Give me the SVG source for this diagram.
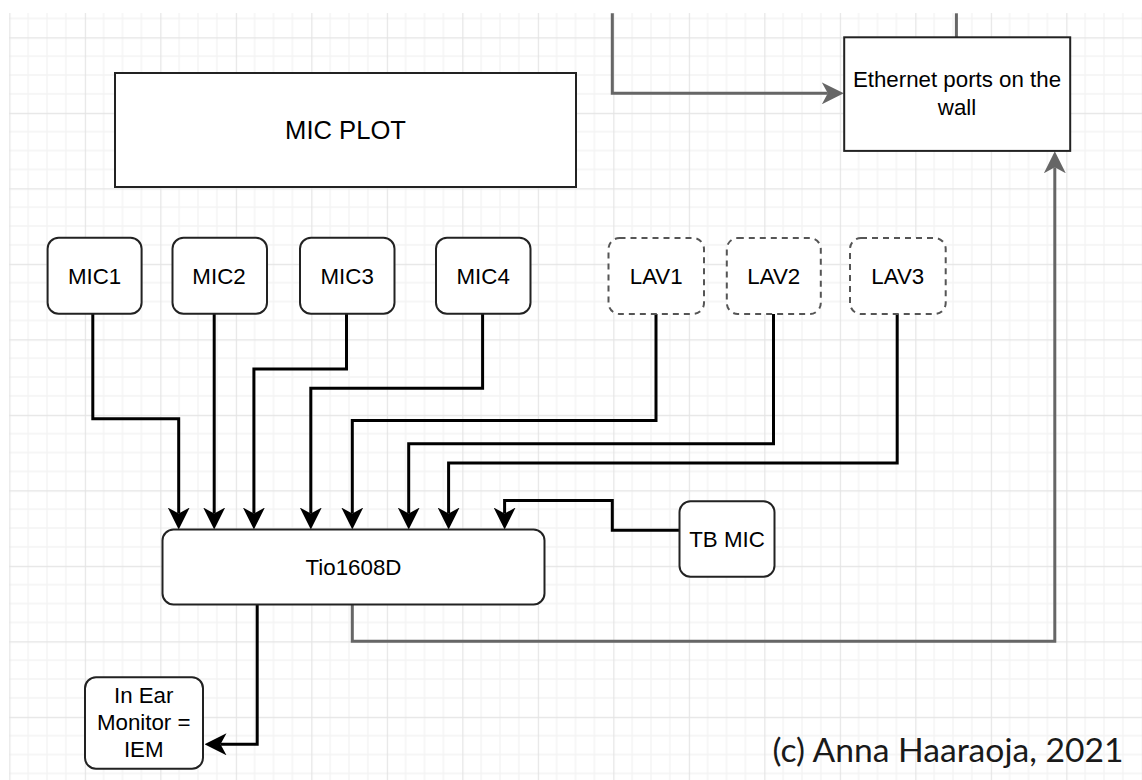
<svg xmlns="http://www.w3.org/2000/svg" width="1142" height="780" viewBox="0 0 1142 780">
<defs>
<pattern id="grid" patternUnits="userSpaceOnUse" x="9.3" y="-38.2" width="75.5" height="75.5">
<path d="M18.875,0V75.5M37.75,0V75.5M56.625,0V75.5M0,18.875H75.5M0,37.75H75.5M0,56.625H75.5" stroke="#f3f3f3" stroke-width="1.3" fill="none"/>
<path d="M0.5,0V75.5M0,0.5H75.5" stroke="#e4e4e4" stroke-width="1.3" fill="none"/>
</pattern>
<marker id="ab" viewBox="0 0 22 22" refX="6" refY="11" markerWidth="22" markerHeight="22" markerUnits="userSpaceOnUse" orient="auto">
<path d="M0,0 L22,11 L0,22 L6,11 Z" fill="#000"/>
</marker>
<marker id="ag" viewBox="0 0 22 22" refX="6" refY="11" markerWidth="22" markerHeight="22" markerUnits="userSpaceOnUse" orient="auto">
<path d="M0,0 L22,11 L0,22 L6,11 Z" fill="#666"/>
</marker>
</defs>
<style>
.box{fill:#fff;stroke:#222;stroke-width:2}
.dash{fill:#fff;stroke:#555;stroke-width:2;stroke-dasharray:6 5}
.lbl{font-family:"Liberation Sans",Arial,sans-serif;font-size:22.3px;fill:#000;text-anchor:middle}
.blk{fill:none;stroke:#000;stroke-width:3}
.gry{fill:none;stroke:#666;stroke-width:3}
</style>
<rect x="0" y="0" width="1142" height="780" fill="#fff"/>
<rect x="9" y="13" width="1133" height="767" fill="url(#grid)"/>
<g id="connectors">
<path class="blk" d="M92.8,313.5V418.8H178.7V513.5" marker-end="url(#ab)"/>
<path class="blk" d="M214.2,313.5V513.5" marker-end="url(#ab)"/>
<path class="blk" d="M346.5,313.5V368.9H253.9V513.5" marker-end="url(#ab)"/>
<path class="blk" d="M482.6,313.5V388.2H310.8V513.5" marker-end="url(#ab)"/>
<path class="blk" d="M656,314V420.5H352.3V513.5" marker-end="url(#ab)"/>
<path class="blk" d="M773.5,314V443.7H408.7V513.5" marker-end="url(#ab)"/>
<path class="blk" d="M897.2,314V463H448.6V513.5" marker-end="url(#ab)"/>
<path class="blk" d="M679.5,530.2H612.3V500.5H504.6V513.5" marker-end="url(#ab)"/>
<path class="blk" d="M257.2,604.5V744.3H220.5" marker-end="url(#ab)"/>
<path class="gry" d="M352.3,604.5V641.3H1054.8V167.3" marker-end="url(#ag)"/>
<path class="gry" d="M612.3,13.3V93.3H827.8" marker-end="url(#ag)"/>
<path class="gry" d="M956.4,13.3V37.3"/>
</g>
<g id="micplot">
<rect class="box" x="115" y="73" width="461" height="114"/>
<text class="lbl" x="345.5" y="139" style="font-size:25.6px">MIC PLOT</text>
</g>
<g id="ethernet">
<rect class="box" x="844.2" y="37.3" width="226" height="113.6"/>
<text class="lbl" x="957" y="87.3">Ethernet ports on the</text>
<text class="lbl" x="957" y="115">wall</text>
</g>
<g id="mic1">
<rect class="box" x="47.6" y="237.7" width="94" height="76" rx="11"/>
<text class="lbl" x="94.6" y="283.5">MIC1</text>
</g>
<g id="mic2">
<rect class="box" x="172.5" y="237.7" width="94.5" height="76" rx="11"/>
<text class="lbl" x="219" y="283.5">MIC2</text>
</g>
<g id="mic3">
<rect class="box" x="300" y="237.7" width="94.5" height="76" rx="11"/>
<text class="lbl" x="347.2" y="283.5">MIC3</text>
</g>
<g id="mic4">
<rect class="box" x="436" y="237.7" width="94.5" height="76" rx="11"/>
<text class="lbl" x="483.2" y="283.5">MIC4</text>
</g>
<g id="lav1">
<rect class="dash" x="608.5" y="238" width="95.5" height="76" rx="11"/>
<text class="lbl" x="656.2" y="283.5">LAV1</text>
</g>
<g id="lav2">
<rect class="dash" x="726.8" y="238" width="94" height="76" rx="11"/>
<text class="lbl" x="773.8" y="283.5">LAV2</text>
</g>
<g id="lav3">
<rect class="dash" x="850" y="238" width="95.7" height="76" rx="11"/>
<text class="lbl" x="897.8" y="283.5">LAV3</text>
</g>
<g id="tio">
<rect class="box" x="162.5" y="529.5" width="382" height="75" rx="11"/>
<text class="lbl" x="353.5" y="574.5">Tio1608D</text>
</g>
<g id="tbmic">
<rect class="box" x="679.5" y="501.3" width="95" height="75.5" rx="11"/>
<text class="lbl" x="727" y="546.5">TB MIC</text>
</g>
<g id="iem">
<rect class="box" x="85" y="677.2" width="118" height="91.6" rx="11"/>
<text class="lbl" x="143.7" y="703.4">In Ear</text>
<text class="lbl" x="143.7" y="729.8">Monitor =</text>
<text class="lbl" x="143.7" y="757">IEM</text>
</g>
<text x="772.5" y="762" font-family="Lato, 'Open Sans', sans-serif" font-size="32.5" fill="#1a1a1a" textLength="351" lengthAdjust="spacingAndGlyphs">(c) Anna Haaraoja, 2021</text>
</svg>
